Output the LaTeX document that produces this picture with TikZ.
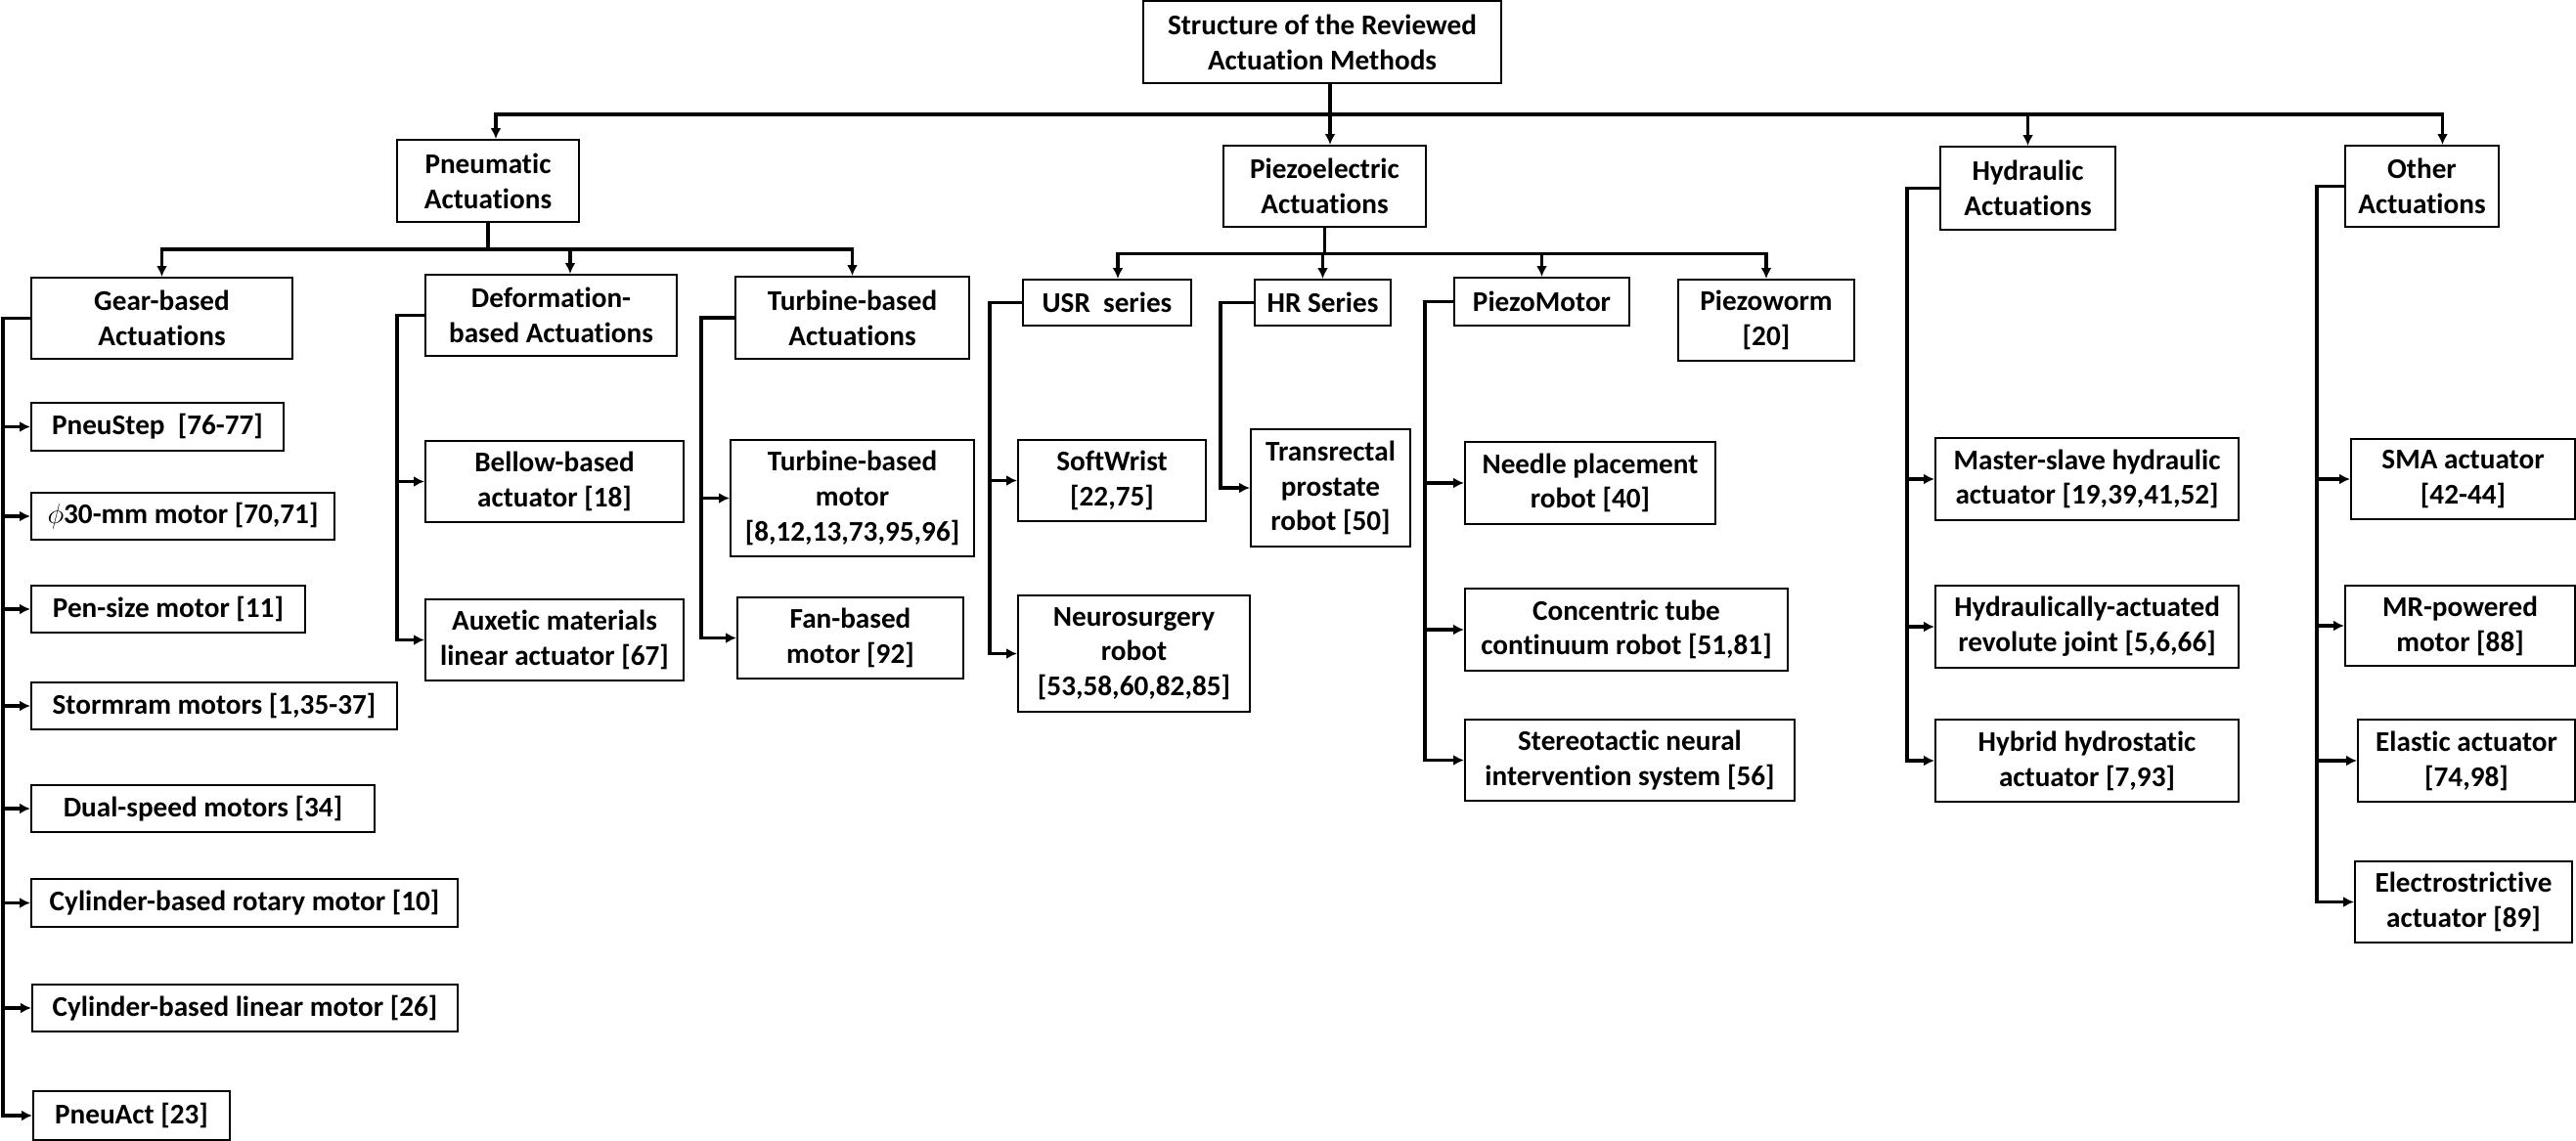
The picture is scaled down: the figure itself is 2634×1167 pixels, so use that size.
\documentclass[tikz,border=0pt]{standalone}
\usepackage{fontspec}
\setmainfont{Carlito}[Ligatures=NoCommon]
\usetikzlibrary{arrows.meta}
\begin{document}
\begin{tikzpicture}[x=0.5pt,y=-0.5pt,
  box/.style={draw,line width=1pt,inner sep=0pt,align=center,font=\bfseries\fontsize{14.6}{17.9}\selectfont},
  sz/.style 2 args={minimum width=#1*0.5pt,minimum height=#2*0.5pt},
  ln/.style={line width=1.8pt},
  arr/.style={line width=1.8pt,-{Latex[length=5.5pt,width=5.5pt]}}]
\useasboundingbox (0,0) rectangle (2634,1167);
\fill[white] (0,0) rectangle (2634,1167);
% level 0 and 1
\node[box,sz={366}{84}] (top) at (1352,43) {Structure of the Reviewed\\Actuation Methods};
\node[box,sz={186}{84}] (pneu) at (499,185) {Pneumatic\\Actuations};
\node[box,sz={207}{83}] (piezo) at (1354.5,190.5) {Piezoelectric\\Actuations};
\node[box,sz={179}{85}] (hydr) at (2073.5,192.5) {Hydraulic\\Actuations};
\node[box,sz={157}{83}] (other) at (2476.5,190.5) {Other\\Actuations};
% level 2
\node[box,sz={267}{83}] (gear) at (165.5,325.5) {Gear-based\\Actuations};
\node[box,sz={257}{83}] (deform) at (563.5,322.5) {Deformation-\\based Actuations};
\node[box,sz={239}{84}] (turb) at (871.5,325) {Turbine-based\\Actuations};
\node[box,sz={172}{47}] (usr) at (1132,309.5) {USR~~series};
\node[box,sz={139}{47}] (hr) at (1352.5,309.5) {HR Series};
\node[box,sz={179}{49}] (pmotor) at (1576.5,308.5) {PiezoMotor};
\node[box,sz={180}{83}] (pworm) at (1806,327.5) {Piezoworm\\{[20]}};
% gear children
\node[box,sz={258}{49}] (pneustep) at (161,436.5) {PneuStep~~[76-77]};
\node[box,sz={310}{48}] (phi) at (187,528) {$\phi$30-mm motor [70,71]};
\node[box,sz={280}{48}] (pen) at (172,623) {Pen-size motor [11]};
\node[box,sz={374}{48}] (storm) at (219,722) {Stormram motors [1,35-37]};
\node[box,sz={351}{48}] (dual) at (207.5,827) {Dual-speed motors [34]};
\node[box,sz={436}{49}] (cylrot) at (250,923.5) {Cylinder-based rotary motor [10]};
\node[box,sz={435}{48}] (cyllin) at (250.5,1031) {Cylinder-based linear motor [26]};
\node[box,sz={201}{50}] (pneuact) at (134.5,1141) {PneuAct [23]};
% deformation / turbine children
\node[box,sz={264}{83}] (bellow) at (567,492.5) {Bellow-based\\actuator [18]};
\node[box,sz={264}{83}] (auxetic) at (567,654.5) {Auxetic materials\\linear actuator [67]};
\node[box,sz={249}{119}] (tmotor) at (871.5,509.5) {Turbine-based\\motor\\{[8,12,13,73,95,96]}};
\node[box,sz={231}{83}] (fan) at (869.5,652.5) {Fan-based\\motor [92]};
% piezo children
\node[box,sz={192}{83}] (soft) at (1137,491.5) {SoftWrist\\{[22,75]}};
\node[box,sz={237}{119}] (neuro) at (1159.5,668.5) {Neurosurgery\\robot\\{[53,58,60,82,85]}};
\node[box,sz={163}{120}] (trans) at (1360.5,499) {Transrectal\\prostate\\robot [50]};
\node[box,sz={256}{84}] (needle) at (1626,494) {Needle placement\\robot [40]};
\node[box,sz={330}{84}] (conc) at (1663,644) {Concentric tube\\continuum robot [51,81]};
\node[box,sz={337}{83}] (stereo) at (1666.5,777.5) {Stereotactic neural\\intervention system [56]};
% hydraulic children
\node[box,sz={310}{84}] (ms) at (2134,490) {Master-slave hydraulic\\actuator [19,39,41,52]};
\node[box,sz={310}{84}] (hra) at (2134,641) {Hydraulically-actuated\\revolute joint [5,6,66]};
\node[box,sz={310}{84}] (hyb) at (2134,778) {Hybrid hydrostatic\\actuator [7,93]};
% other children
\node[box,sz={229}{82}] (sma) at (2518.5,490) {SMA actuator\\{[42-44]}};
\node[box,sz={235}{82}] (mr) at (2515.5,640) {MR-powered\\motor [88]};
\node[box,sz={222}{84}] (elastic) at (2522,778) {Elastic actuator\\{[74,98]}};
\node[box,sz={222}{83}] (electro) at (2519,922.5) {Electrostrictive\\actuator [89]};

% buses
\coordinate (bus) at (0,117);
\coordinate (pbus) at (0,255);
\coordinate (zbus) at (0,259.5);
\coordinate (tx) at ([xshift=4pt]top.south);
\draw[ln] (tx) -- (tx |- bus);
\draw[arr] (tx |- bus) -| ([xshift=4pt]pneu.north);
\draw[arr] (tx |- bus) -| ([xshift=10.5pt]other.north);
\draw[arr] (tx |- bus) -- (tx |- piezo.north);
\draw[arr] (hydr.north |- bus) -- (hydr.north);

\draw[ln] (pneu.south) -- (pneu.south |- pbus);
\draw[arr] (pneu.south |- pbus) -| (gear.north);
\draw[arr] (pneu.south |- pbus) -| (turb.north);
\draw[arr] ([xshift=9.75pt]deform.north |- pbus) -- ([xshift=9.75pt]deform.north);

\draw[ln] (piezo.south) -- (piezo.south |- zbus);
\draw[arr] (piezo.south |- zbus) -| ([xshift=5.5pt]usr.north);
\draw[arr] (piezo.south |- zbus) -| (pworm.north);
\draw[arr] (hr.north |- zbus) -- (hr.north);
\draw[arr] (pmotor.north |- zbus) -- (pmotor.north);

% side brackets
\coordinate (gx) at (3,0);
\draw[arr] (gear.west) -- (gx |- gear.west) -- (gx |- pneuact.west) -- (pneuact.west);
\foreach \c in {pneustep,phi,pen,storm,dual,cylrot,cyllin} \draw[arr] (gx |- \c.west) -- (\c.west);

\coordinate (dx) at (406,0);
\draw[arr] (deform.west) -- (dx |- deform.west) -- (dx |- auxetic.west) -- (auxetic.west);
\draw[arr] (dx |- bellow.west) -- (bellow.west);

\coordinate (tbx) at (717,0);
\draw[arr] (turb.west) -- (tbx |- turb.west) -- (tbx |- fan.west) -- (fan.west);
\draw[arr] (tbx |- tmotor.west) -- (tmotor.west);

\coordinate (ux) at (1012,0);
\draw[arr] (usr.west) -- (ux |- usr.west) -- (ux |- neuro.west) -- (neuro.west);
\draw[arr] (ux |- soft.west) -- (soft.west);

\coordinate (hx) at (1248,0);
\draw[arr] (hr.west) -- (hx |- hr.west) -- (hx |- trans.west) -- (trans.west);

\coordinate (mx) at (1457,0);
\draw[arr] (pmotor.west) -- (mx |- pmotor.west) -- (mx |- stereo.west) -- (stereo.west);
\foreach \c in {needle,conc} \draw[arr] (mx |- \c.west) -- (\c.west);

\coordinate (yx) at (1950,0);
\draw[arr] (hydr.west) -- (yx |- hydr.west) -- (yx |- hyb.west) -- (hyb.west);
\foreach \c in {ms,hra} \draw[arr] (yx |- \c.west) -- (\c.west);

\coordinate (ox) at (2369,0);
\draw[arr] (other.west) -- (ox |- other.west) -- (ox |- electro.west) -- (electro.west);
\foreach \c in {sma,mr,elastic} \draw[arr] (ox |- \c.west) -- (\c.west);
\end{tikzpicture}
\end{document}
